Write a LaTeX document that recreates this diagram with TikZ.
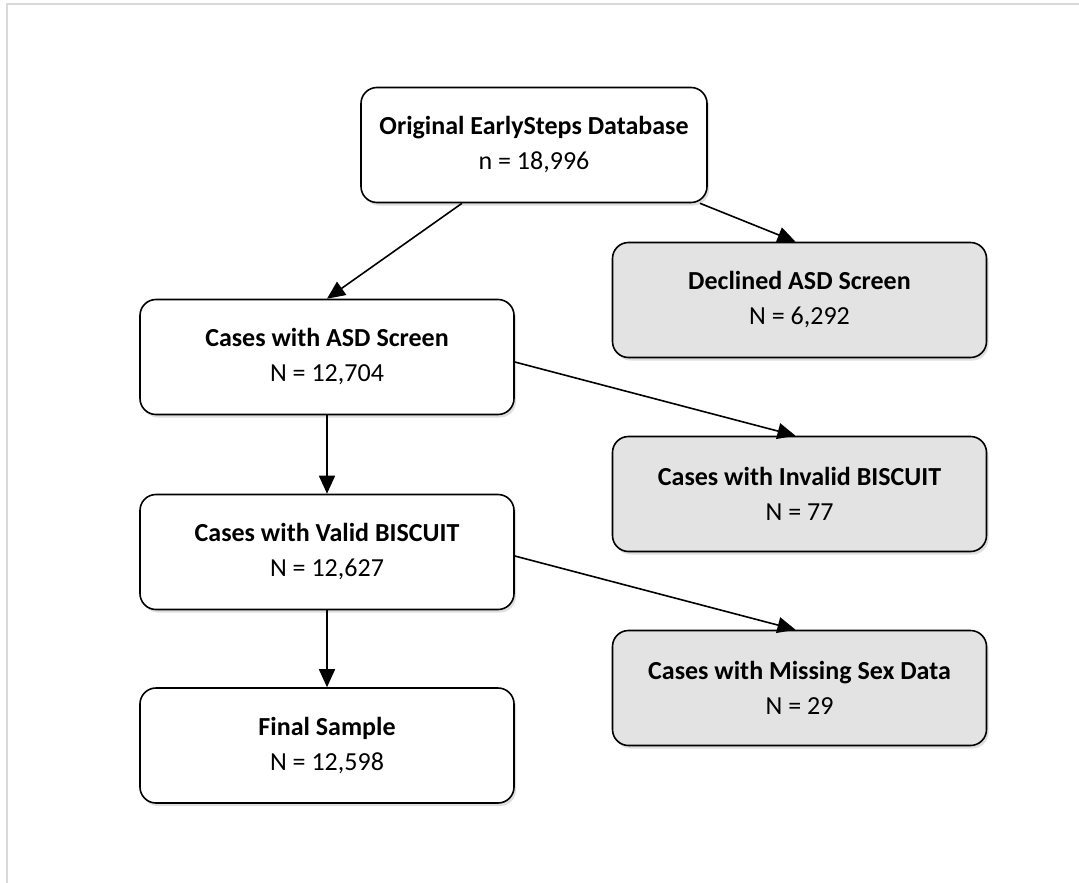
\documentclass[tikz,border=0pt]{standalone}
\usepackage{fontspec}
\setmainfont{Carlito}
\usetikzlibrary{arrows.meta,shadows}
\begin{document}
\begin{tikzpicture}[x=1pt,y=-1pt,
  box/.style={draw=black, line width=1.6pt, rounded corners=16pt, fill=white,
    minimum width=374pt, minimum height=115pt, align=center, inner sep=0pt,
    font=\fontsize{26}{35}\selectfont,
    drop shadow={opacity=0.25, shadow xshift=2pt, shadow yshift=-3pt}},
  graybox/.style={box, fill=black!11},
  arr/.style={line width=1.6pt, -{Triangle[length=18pt,width=16pt]}}]
\useasboundingbox (0,0) rectangle (1079,883);
\fill[white] (0,0) rectangle (1079,883);
\draw[line width=2pt, draw=black!15] (7,883) -- (7,4) -- (1079,4);

\node[box, minimum width=346pt] (top) at (534,145) {\textbf{Original EarlySteps Database}\\n = 18,996};
\node[graybox] (declined) at (799.5,300) {\textbf{Declined ASD Screen}\\N = 6,292};
\node[box] (asd) at (327,357) {\textbf{Cases with ASD Screen}\\N = 12,704};
\node[graybox] (invalid) at (799.5,494) {\textbf{Cases with Invalid BISCUIT}\\N = 77};
\node[box] (valid) at (327,552) {\textbf{Cases with Valid BISCUIT}\\N = 12,627};
\node[graybox] (missing) at (799.5,688) {\textbf{Cases with Missing Sex Data}\\N = 29};
\node[box] (final) at (327,745.5) {\textbf{Final Sample}\\N = 12,598};

\draw[arr] ([xshift=-72pt]top.south) -- (asd.north);
\draw[arr] ([xshift=166pt]top.south) -- ([xshift=-4pt]declined.north);
\draw[arr] ([yshift=-5pt]asd.east) -- ([xshift=-4pt]invalid.north);
\draw[arr] ([yshift=-4pt]valid.east) -- ([xshift=-4pt]missing.north);
\draw[arr] (asd.south) -- (valid.north);
\draw[arr] (valid.south) -- (final.north);
\end{tikzpicture}
\end{document}
